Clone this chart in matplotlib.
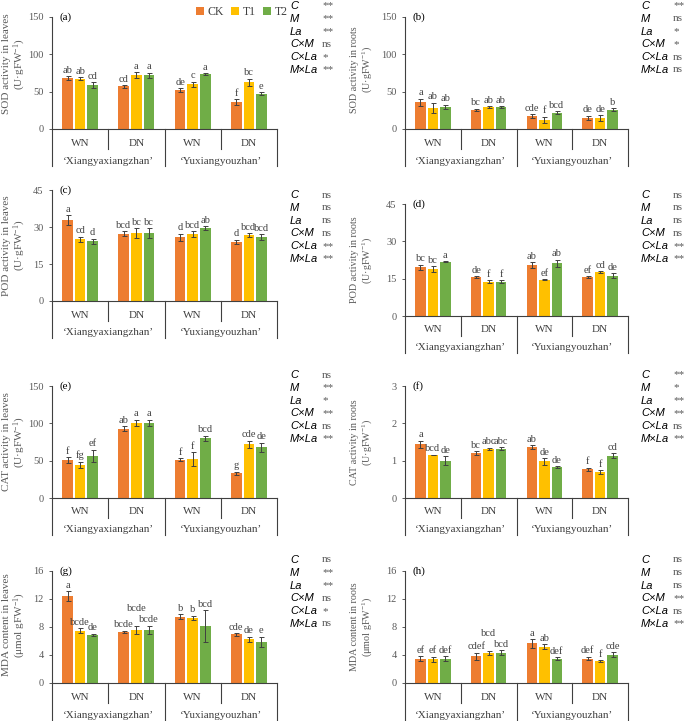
import numpy as np
import matplotlib
matplotlib.use('Agg')
import matplotlib.pyplot as plt
from matplotlib.patches import Patch

plt.rcParams['font.family'] = ['Liberation Serif', 'DejaVu Serif']
plt.rcParams['mathtext.fontset'] = 'custom'
plt.rcParams['mathtext.rm'] = 'Liberation Serif'
plt.rcParams['mathtext.it'] = 'Liberation Serif:italic'

treatments = ['CK', 'T1', 'T2']
colors = ['#ED7D31', '#FFC000', '#70AD47']
groups = ['WN', 'DN', 'WN', 'DN']
cultivars = ['\u2018Xiangyaxiangzhan\u2019', '\u2018Yuxiangyouzhan\u2019']
factors = ['C', 'M', 'La', 'C×M', 'C×La', 'M×La']

# rows: WN-X, DN-X, WN-Y, DN-Y ; cols: CK, T1, T2
sod_leaf = [[68, 67.5, 59], [57, 72, 72], [52, 60, 73.5], [36, 62.5, 47]]
sod_leaf_err = [[3, 1.5, 4], [2, 4, 3.5], [3, 3.5, 1.5], [4, 5, 2]]
sod_leaf_let = [['ab', 'ab', 'cd'], ['cd', 'a', 'a'], ['de', 'c', 'a'], ['f', 'bc', 'e']]
sod_leaf_sig = ['**', '**', '**', 'ns', '*', '**']

sod_root = [[35.7, 28, 29.5], [25.5, 29.5, 29.5], [17, 12.5, 21.5], [14.7, 14.7, 26]]
sod_root_err = [[5, 7, 3], [1.5, 1, 1], [2.5, 4, 2], [3, 3.5, 1.5]]
sod_root_let = [['a', 'ab', 'ab'], ['bc', 'ab', 'ab'], ['cde', 'f', 'bcd'], ['de', 'de', 'b']]
sod_root_sig = ['**', 'ns', '*', '*', 'ns', 'ns']

pod_leaf = [[32.8, 25, 24.3], [27.3, 27.6, 27.6], [25.8, 27, 29.6], [24, 26.8, 26]]
pod_leaf_err = [[2, 1, 1], [1, 2, 2], [1.5, 1.2, 0.8], [0.8, 0.8, 1.2]]
pod_leaf_let = [['a', 'cd', 'd'], ['bcd', 'bc', 'bc'], ['d', 'bcd', 'ab'], ['d', 'bcd', 'bcd']]
pod_leaf_sig = ['ns', 'ns', 'ns', 'ns', '**', '**']

pod_root = [[19.6, 18.8, 21.8], [15.7, 13.8, 13.8], [20.4, 14.6, 21.1], [15.7, 17.7, 16.1]]
pod_root_err = [[1, 1.2, 0.3], [0.4, 0.7, 0.6], [1.2, 0.3, 1.6], [0.3, 0.4, 1]]
pod_root_let = [['bc', 'bc', 'a'], ['de', 'f', 'f'], ['ab', 'ef', 'ab'], ['ef', 'cd', 'de']]
pod_root_sig = ['ns', 'ns', 'ns', 'ns', '**', '**']

cat_leaf = [[51, 44.5, 56.5], [93, 101, 101], [51, 52.5, 79.7], [33.4, 72, 68]]
cat_leaf_err = [[4, 4, 8], [3, 4, 4], [2, 9, 4], [2, 5, 6]]
cat_leaf_let = [['f', 'fg', 'ef'], ['ab', 'a', 'a'], ['f', 'f', 'bcd'], ['g', 'cde', 'de']]
cat_leaf_sig = ['ns', '**', '*', '**', 'ns', '**']

cat_root = [[1.44, 1.15, 1.0], [1.2, 1.32, 1.32], [1.36, 0.98, 0.83], [0.77, 0.69, 1.13]]
cat_root_err = [[0.1, 0.01, 0.12], [0.06, 0.03, 0.04], [0.05, 0.09, 0.03], [0.04, 0.06, 0.07]]
cat_root_let = [['a', 'bcd', 'de'], ['bc', 'abc', 'abc'], ['ab', 'de', 'de'], ['f', 'f', 'cd']]
cat_root_sig = ['**', '*', '**', '**', 'ns', '**']

mda_leaf = [[12.4, 7.5, 6.85], [7.3, 7.57, 7.57], [9.5, 9.3, 8.1], [6.95, 6.24, 5.9]]
mda_leaf_err = [[0.7, 0.35, 0.2], [0.2, 0.6, 0.6], [0.3, 0.3, 2.3], [0.2, 0.4, 0.7]]
mda_leaf_let = [['a', 'bcde', 'de'], ['bcde', 'bcde', 'bcde'], ['b', 'b', 'bcd'], ['cde', 'de', 'e']]
mda_leaf_sig = ['ns', '**', '**', 'ns', '*', 'ns']

mda_root = [[3.47, 3.38, 3.5], [3.8, 4.33, 4.33], [5.67, 5.2, 3.5], [3.5, 3.14, 4.05]]
mda_root_err = [[0.35, 0.4, 0.35], [0.55, 0.3, 0.35], [0.6, 0.35, 0.2], [0.25, 0.15, 0.35]]
mda_root_let = [['ef', 'ef', 'def'], ['cdef', 'bcd', 'bcd'], ['a', 'ab', 'def'], ['def', 'f', 'cde']]
mda_root_sig = ['ns', 'ns', 'ns', '**', 'ns', '**']

U = '(U·gFW$^{-1}$)'
MU = '(μmol gFW$^{-1}$)'
panels = [
    ('(a)', 'SOD activity in leaves\n' + U, [0, 50, 100, 150], sod_leaf, sod_leaf_err, sod_leaf_let, sod_leaf_sig),
    ('(b)', 'SOD activity in roots\n' + U, [0, 50, 100, 150], sod_root, sod_root_err, sod_root_let, sod_root_sig),
    ('(c)', 'POD activity in leaves\n' + U, [0, 15, 30, 45], pod_leaf, pod_leaf_err, pod_leaf_let, pod_leaf_sig),
    ('(d)', 'POD activity in roots\n' + U, [0, 15, 30, 45], pod_root, pod_root_err, pod_root_let, pod_root_sig),
    ('(e)', 'CAT activity in leaves\n' + U, [0, 50, 100, 150], cat_leaf, cat_leaf_err, cat_leaf_let, cat_leaf_sig),
    ('(f)', 'CAT activity in roots\n' + U, [0, 1, 2, 3], cat_root, cat_root_err, cat_root_let, cat_root_sig),
    ('(g)', 'MDA content in leaves\n' + MU, [0, 4, 8, 12, 16], mda_leaf, mda_leaf_err, mda_leaf_let, mda_leaf_sig),
    ('(h)', 'MDA content in roots\n' + MU, [0, 4, 8, 12, 16], mda_root, mda_root_err, mda_root_let, mda_root_sig),
]

# layout in pixels: (axis left, axis width, top, zero), table rows start y
W, H = 685, 721
boxes = [(52, 225, 17, 129), (405, 223, 17, 129),
         (52, 225, 190, 301), (405, 223, 204, 316),
         (52, 225, 386, 498), (405, 223, 386, 498),
         (52, 225, 571, 683), (405, 223, 571, 683)]
table_y = [6, 6, 195, 195, 375, 375, 560, 560]
label_y = [0.58, 0.53, 0.5, 0.5, 0.5, 0.5, 0.52, 0.5]

fig = plt.figure(figsize=(W / 100, H / 100), dpi=100)
gray = '#595959'
dark = '#404040'
offs = np.array([-0.223, 0, 0.223])
x = np.arange(4)

for i, (tag, ylab, yt, mean, err, let, sig) in enumerate(panels):
    l, w, t, z = boxes[i]
    left_col = l < 100
    ax = fig.add_axes([l / W, 1 - z / H, w / W, (z - t) / H])
    mean = np.array(mean)
    err = np.array(err)
    for k in range(3):
        ax.bar(x + offs[k], mean[:, k], width=0.19, color=colors[k],
               yerr=err[:, k], error_kw=dict(ecolor=dark, elinewidth=0.7, capsize=1.8, capthick=0.7))
        for g in range(4):
            bump = 0
            if k == 1 and len(let[g][0]) >= 3 and len(let[g][1]) >= 3 and len(let[g][2]) >= 3:
                bump = 8
            ax.annotate(let[g][k], (x[g] + offs[k], mean[g, k] + err[g, k]),
                        xytext=(0, 1 + bump), textcoords='offset points',
                        ha='center', va='bottom', fontsize=7.5, color=dark)
    ax.set_xlim(-0.5, 3.5)
    ax.set_ylim(yt[0], yt[-1])
    ax.set_yticks(yt)
    ax.set_xticks([])
    ax.tick_params(axis='y', labelsize=7.5, labelcolor=gray, color=gray, length=2.5, width=0.7)
    for s in ['top', 'right']:
        ax.spines[s].set_visible(False)
    ax.spines['left'].set_color(dark)
    ax.spines['bottom'].set_color(dark)
    ax.spines['left'].set_linewidth(0.8)
    ax.spines['bottom'].set_linewidth(0.8)
    ax.set_ylabel(ylab, fontsize=8 if left_col else 7.3, color=gray, linespacing=1.1)
    ax.yaxis.set_label_coords(-(24 if left_col else 31) / w, label_y[i])
    ax.text(7 / w, 1.0, tag, transform=ax.transAxes, fontsize=8, va='center', ha='left')

    # category axis below
    h = z - t
    tr = ax.get_xaxis_transform()
    for xb, depth in [(-0.5, 37), (0.5, 20), (1.5, 37), (2.5, 20), (3.5, 37)]:
        ax.plot([xb, xb], [0, -depth / h], transform=tr, color=dark, lw=0.8, clip_on=False)
    for g in range(4):
        ax.text(x[g], -14 / h, groups[g], transform=tr, ha='center', va='center', fontsize=8, color=dark)
    for c in range(2):
        ax.text(0.5 + 2 * c, -32 / h, cultivars[c], transform=tr, ha='center', va='center',
                fontsize=8, color=dark)

    # significance table
    lx = l + w + 13
    vx = l + w + 45
    for r in range(6):
        yy = 1 - (table_y[i] + r * 12.8) / H
        fig.text(lx / W, yy, factors[r], fontsize=8, family='Liberation Sans', style='italic',
                 va='center', ha='left')
        fig.text(vx / W, yy, sig[r], fontsize=8, color=gray, va='center', ha='left')

handles = [Patch(facecolor=c, label=t) for c, t in zip(colors, treatments)]
fig.legend(handles=handles, loc='upper left', bbox_to_anchor=(190 / W, 1.0), ncol=3, frameon=False,
           fontsize=8.5, handlelength=0.7, handleheight=0.7, columnspacing=0.6, handletextpad=0.3,
           borderaxespad=0.1, labelcolor=dark)

fig.savefig('out.png', dpi=100)
